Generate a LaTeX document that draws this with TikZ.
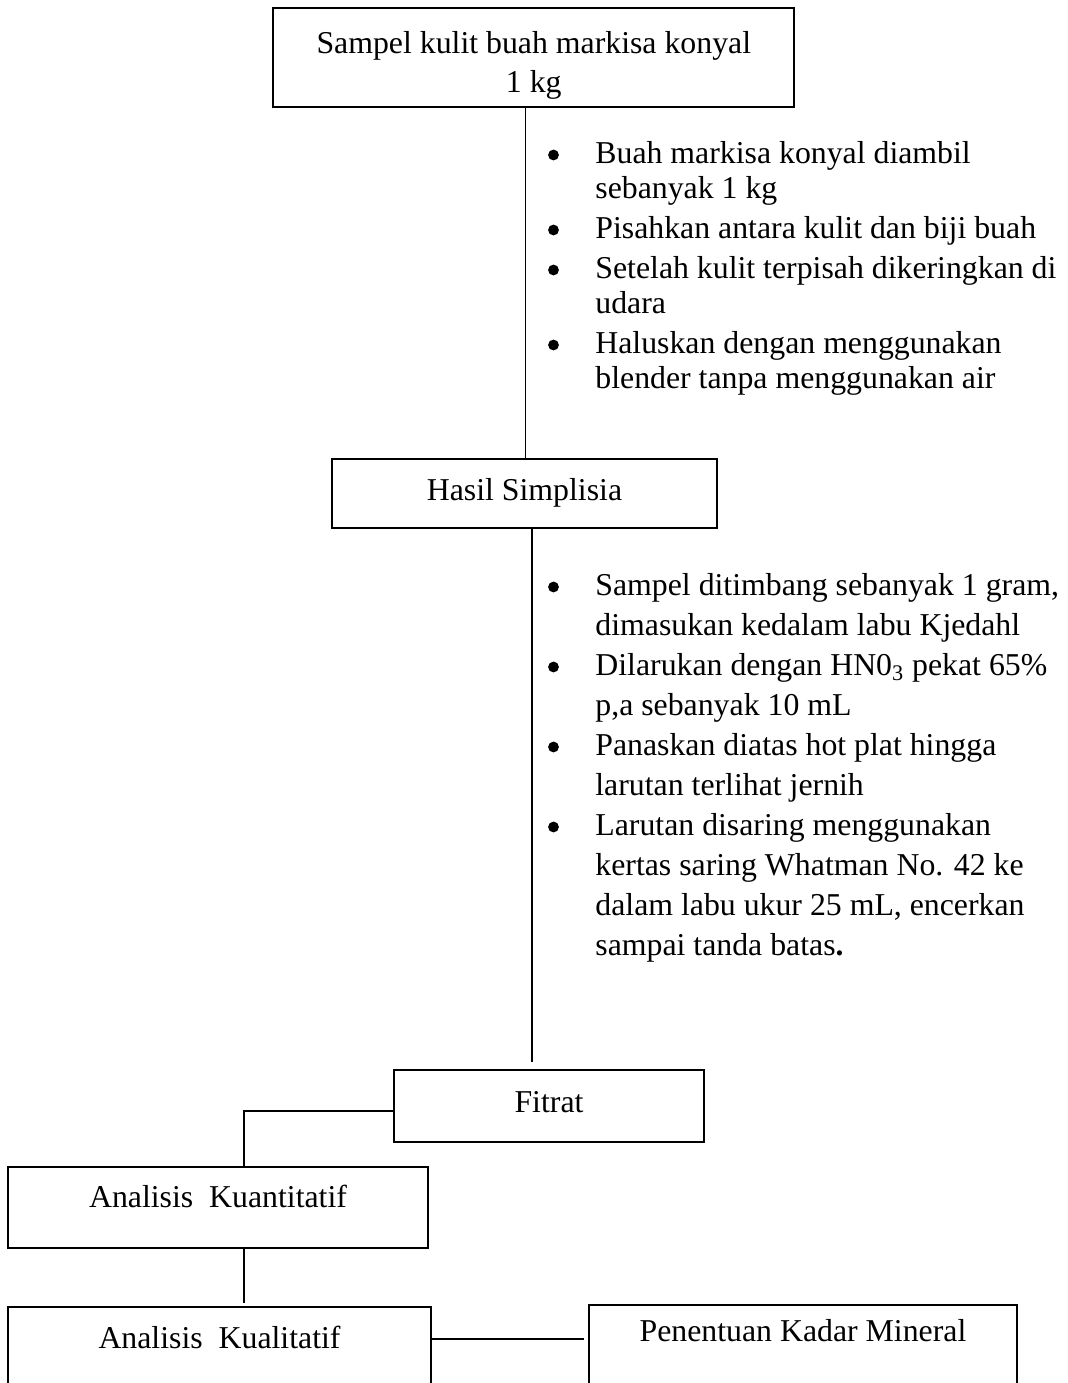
\documentclass[tikz,border=0pt]{standalone}
\usepackage{fontspec}
\setmainfont{Liberation Serif}
\usetikzlibrary{fit}

% stacked lines sharing one baseline at the first line
\newcommand{\leftlines}[2]{\vtop{\baselineskip=#1\lineskiplimit=-100pt\halign{##\hfil\cr#2\crcr}}}
\newcommand{\midlines}[2]{\vtop{\baselineskip=#1\lineskiplimit=-100pt\halign{\hfil##\hfil\cr#2\crcr}}}

\begin{document}
\begin{tikzpicture}[x=0.5pt,y=-0.5pt,
  box/.style={draw, line width=0.9pt, inner sep=0pt},
  txt/.style={inner sep=0pt, font=\fontsize{15.9}{19}\selectfont},
  link/.style={line width=0.9pt},
  dot/.style={circle, fill, inner sep=0pt, minimum size=5.4pt}]
\useasboundingbox (0,0) rectangle (1067,1383);
\clip (0,0) rectangle (1067,1383);

% guide coordinates for the connector lines
\coordinate (x1) at (525.5,0);
\coordinate (x2) at (532.3,0);
\coordinate (x3) at (244,0);
\coordinate (e1) at (0,1111);
\coordinate (e2) at (0,1339);

% boxes
\node[box, fit={(273,8) (794,107)}] (sampel) {};
\node[box, fit={(332,459) (717,528)}] (simplisia) {};
\node[box, fit={(394,1070) (704,1142)}] (fitrat) {};
\node[box, fit={(8,1167) (428,1248)}] (kuant) {};
\node[box, fit={(8,1307) (431,1400)}] (kualit) {};
\node[box, fit={(589,1305) (1017,1400)}] (mineral) {};

% box texts
\node[txt, anchor=base] (tsampel) at (533.8,53) {\midlines{19.5pt}{Sampel kulit buah markisa konyal\cr 1 kg}};
\node[txt, anchor=base] (tsimplisia) at (524.5,500) {Hasil Simplisia};
\node[txt, anchor=base] (tfitrat) at (549,1112) {Fitrat};
\node[txt, anchor=base] (tkuant) at (218,1207) {Analisis\ \ Kuantitatif};
\node[txt, anchor=base] (tkualit) at (219.5,1348) {Analisis\ \ Kualitatif};
\node[txt, anchor=base] (tmineral) at (803,1341) {Penentuan Kadar Mineral};

% first list of steps
\node[dot] (a1) at (553.5,155) {};
\node[dot] (a2) at (553.5,230) {};
\node[dot] (a3) at (553.5,270) {};
\node[dot] (a4) at (553.5,345) {};
\node[txt, anchor=base west] (ta1) at (595,163) {\leftlines{17.5pt}{Buah markisa konyal diambil\cr sebanyak 1 kg}};
\node[txt, anchor=base west] (ta2) at (595,238) {Pisahkan antara kulit dan biji buah};
\node[txt, anchor=base west] (ta3) at (595,278) {\leftlines{17.5pt}{Setelah kulit terpisah dikeringkan di\cr udara}};
\node[txt, anchor=base west] (ta4) at (595,353) {\leftlines{17.5pt}{Haluskan dengan menggunakan\cr blender tanpa menggunakan air}};

% second list of steps
\node[dot] (b1) at (553.5,587) {};
\node[dot] (b2) at (553.5,667) {};
\node[dot] (b3) at (553.5,747) {};
\node[dot] (b4) at (553.5,827) {};
\node[txt, anchor=base west] (tb1) at (595,595) {\leftlines{20pt}{Sampel ditimbang sebanyak 1 gram,\cr dimasukan kedalam labu Kjedahl}};
\node[txt, anchor=base west] (tb2) at (595,675) {\leftlines{20pt}{Dilarukan dengan HN0\textsubscript{3} pekat 65\%\cr p,a sebanyak 10 mL}};
\node[txt, anchor=base west] (tb3) at (595,755) {\leftlines{20pt}{Panaskan diatas hot plat hingga\cr larutan terlihat jernih}};
\node[txt, anchor=base west] (tb4) at (595,835) {\leftlines{20pt}{Larutan disaring menggunakan\cr kertas saring Whatman No. 42 ke\cr dalam labu ukur 25 mL, encerkan\cr sampai tanda batas\textbf{.}}};

% connectors
\draw[link] (sampel.south -| x1) -- (simplisia.north -| x1);
\draw[link, shorten >=3.5pt] (simplisia.south -| x2) -- (fitrat.north -| x2);
\draw[link] (fitrat.west |- e1) -| (kuant.north -| x3);
\draw[link, shorten >=1.5pt] (kuant.south -| x3) -- (kualit.north -| x3);
\draw[link, shorten >=2pt] (kualit.east |- e2) -- (mineral.west |- e2);
\end{tikzpicture}
\end{document}
